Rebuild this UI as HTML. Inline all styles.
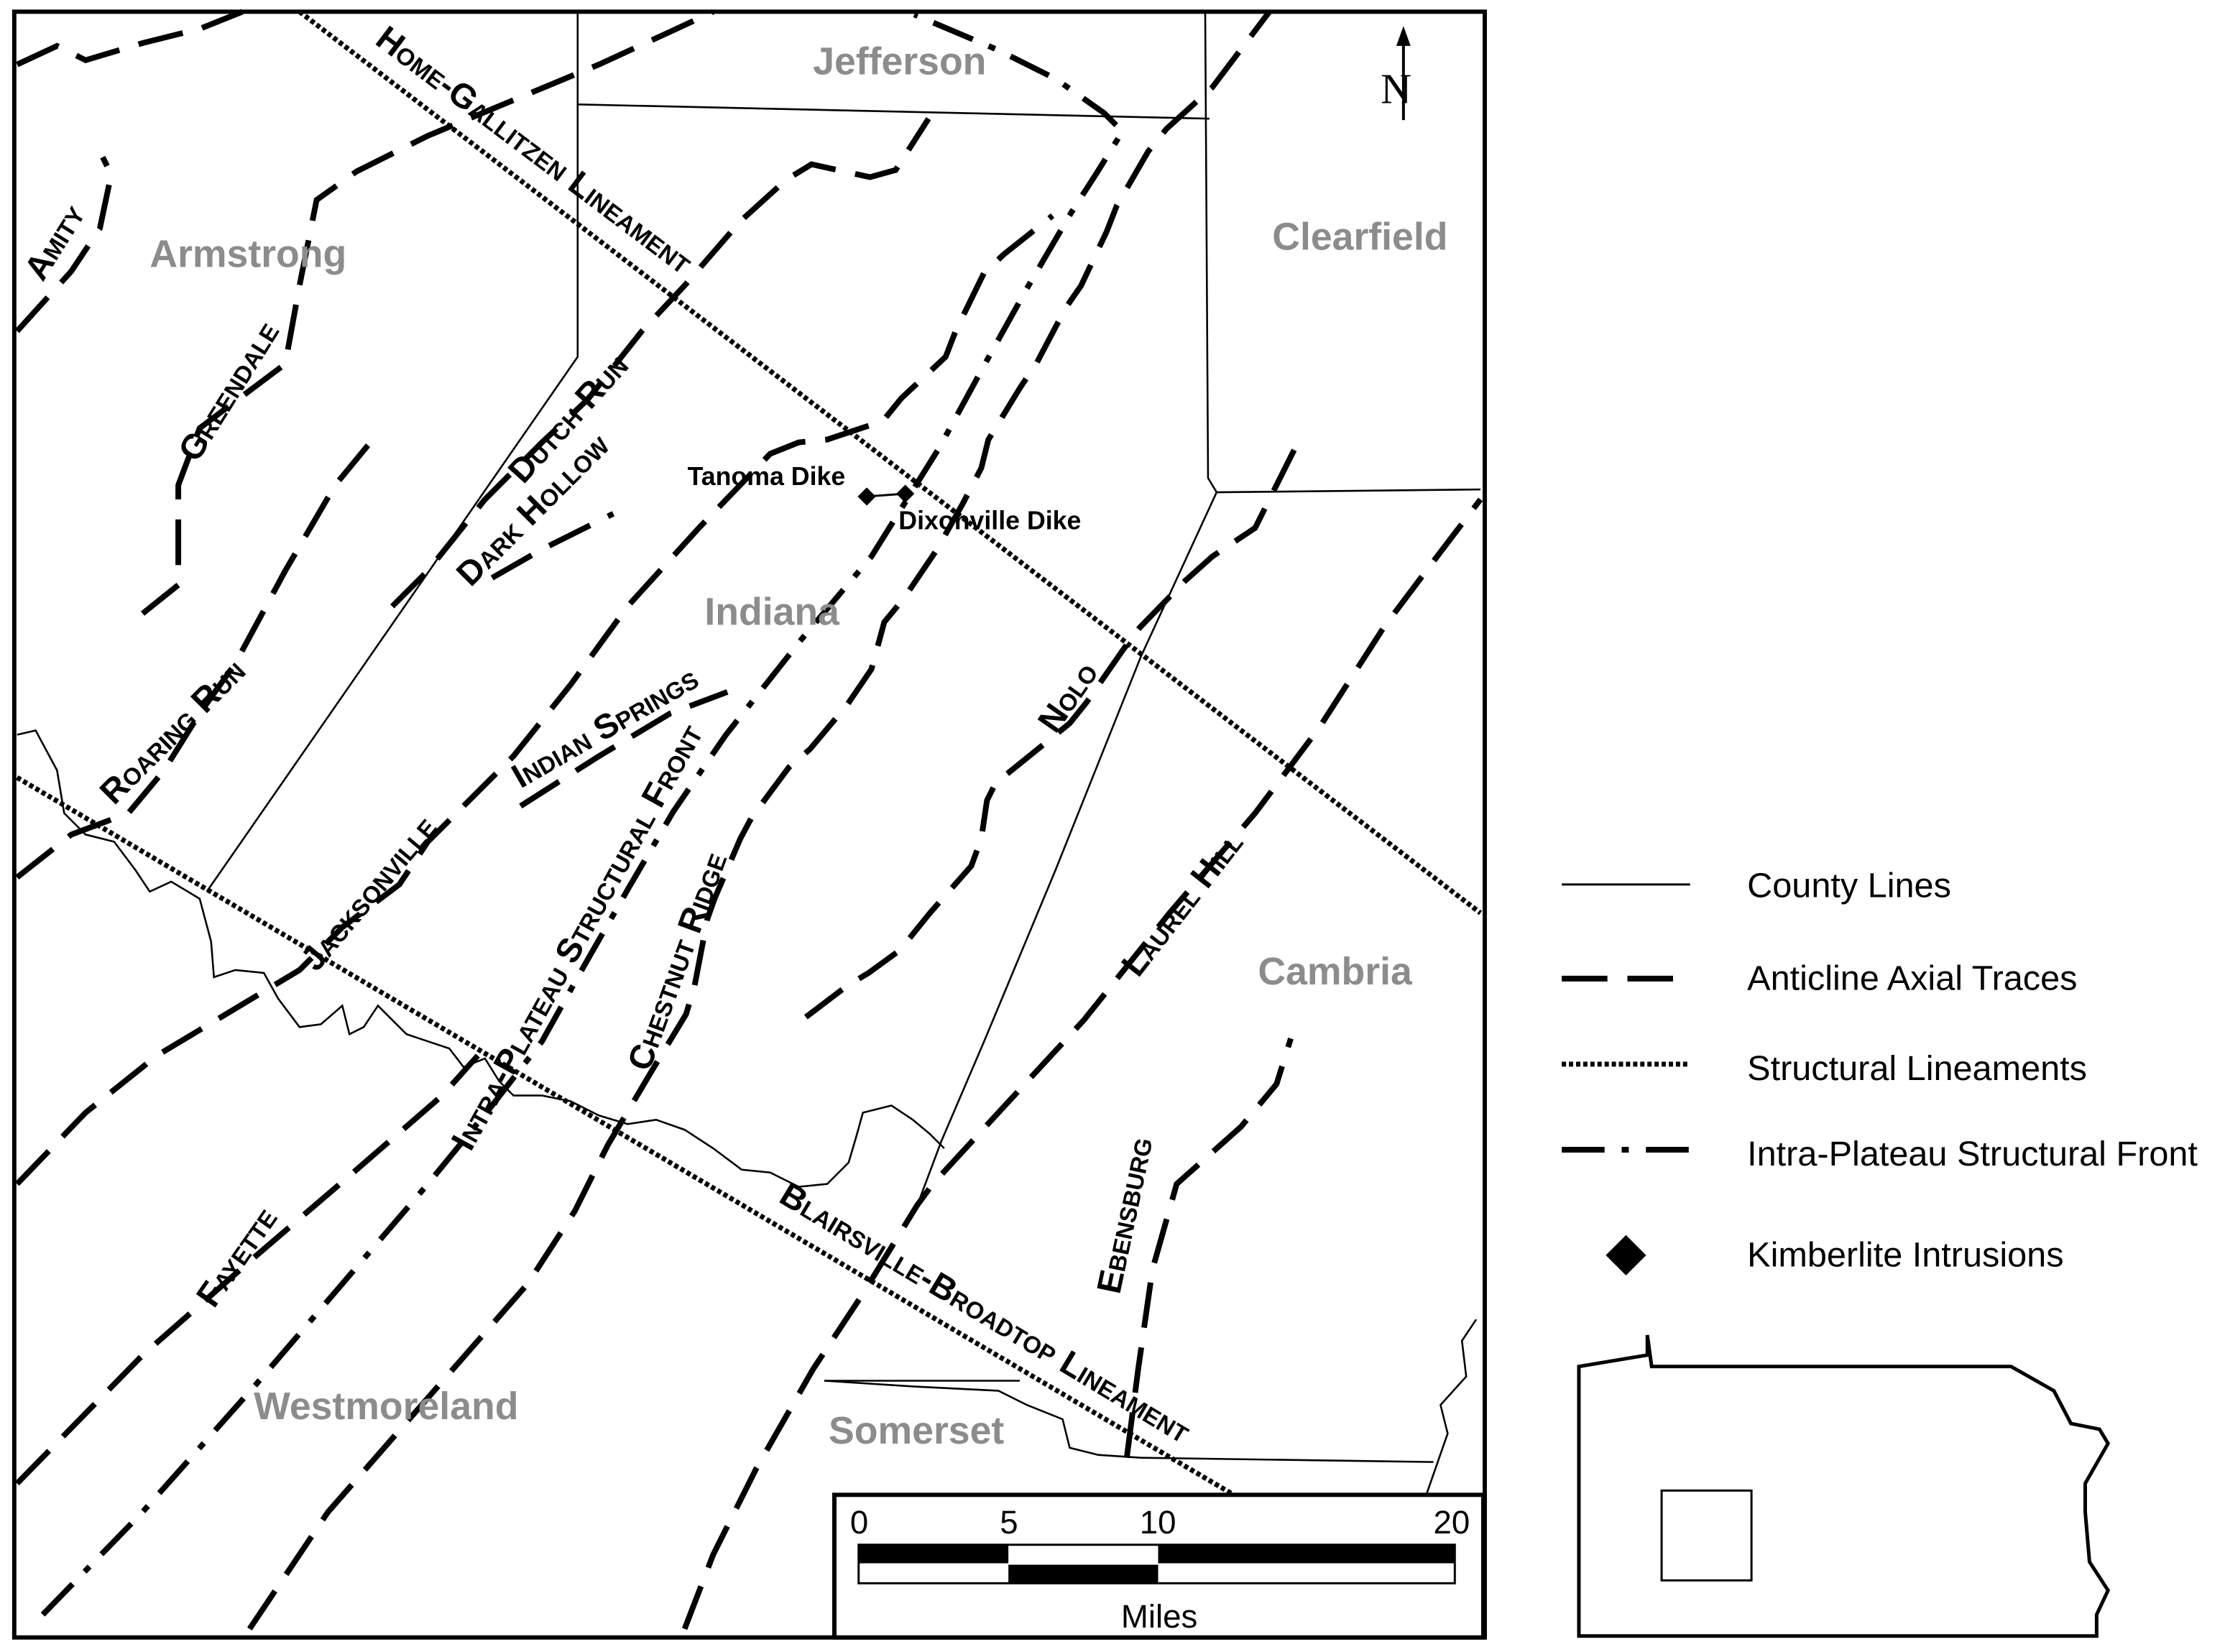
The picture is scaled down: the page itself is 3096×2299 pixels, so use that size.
<!DOCTYPE html>
<html><head><meta charset="utf-8"><style>
html,body{margin:0;padding:0;background:#fff;}
svg{display:block}
.c{font-family:"Liberation Sans",sans-serif;font-weight:bold;fill:#8c8c8c;font-size:27px}
.l{font-family:"Liberation Sans",sans-serif;font-weight:bold;fill:#000;font-size:24px;font-variant:small-caps}
.g{font-family:"Liberation Sans",sans-serif;fill:#000;font-size:24.5px}
.s{font-family:"Liberation Sans",sans-serif;fill:#000;font-size:23px}
.d{fill:none;stroke:#000;stroke-width:4;stroke-dasharray:32 14}
.dd{fill:none;stroke:#000;stroke-width:4;stroke-dasharray:30 12 5 12}
.dt{fill:none;stroke:#000;stroke-width:3.5;stroke-dasharray:3 2}
.t{fill:none;stroke:#000;stroke-width:1.3}
</style></head><body>
<svg width="3096" height="2299" viewBox="0 0 1560 1158" xmlns="http://www.w3.org/2000/svg">
<rect x="0" y="0" width="1560" height="1158" fill="#fff"/>
<polyline class="t" points="405,8 405,250 145,625"/>
<polyline class="t" points="405,73 848,83"/>
<polyline class="t" points="845,8 847,335 853,345 1038,343"/>
<polyline class="t" points="853,345 800,460 740,610 690,730 660,800 645,840"/>
<polyline class="t" points="578,968 715,968"/>
<polyline class="t" points="800,1022 1005,1025"/>
<polyline class="t" points="1035,925 1025,940 1028,965 1010,985 1015,1005 1000,1048"/>
<polyline class="t" points="12,515 25,512 40,540 45,570 60,585 80,590 95,610 105,625 120,618 140,630 148,660 150,685 165,680 185,682 195,700 210,720 225,718 240,705 245,725 255,720 265,705 275,715 285,725 300,730 315,735 325,748 340,742 350,758 360,768 380,768 400,772 420,782 440,788 460,785 480,792 500,805 520,820 540,822 560,832 580,830 595,815 600,798 605,780 625,775 640,785 652,795 662,805"/>
<polyline class="t" points="578,968 640,972 700,975 720,985 745,995 750,1015 770,1020 800,1022"/>
<line class="dt" x1="210" y1="8" x2="1038" y2="640"/>
<line class="dt" x1="12" y1="545" x2="865" y2="1048"/>
<polyline class="d" points="12,45 40,32 60,42 100,30 140,20 170,8"/>
<polyline class="d" points="12,232 50,190 70,160 78,122 72,110"/>
<polyline class="d" points="100,430 125,410 125,340 140,300 200,255 210,200 222,140 250,120 300,95 360,70 420,45 470,22 500,8"/>
<polyline class="d" points="12,615 50,585 90,570 115,540 140,500 165,465 200,400 235,340 258,312"/>
<polyline class="d" points="275,425 300,400 340,350 380,310 412,280 450,232 480,200 519,155 551,126 569,115 610,124 628,119 651,83"/>
<polyline class="d" points="345,405 380,385 430,360"/>
<polyline class="d" points="12,830 60,780 110,740 160,710 210,680 240,650 280,620 300,590 330,560 360,530 400,480 440,425 490,370 540,318 560,310 580,308 619,295 632,279 663,250 670,232 690,191 704,178 738,151"/>
<polyline class="d" points="365,565 420,530 470,500 510,485"/>
<polyline class="d" points="12,1040 100,950 180,880 250,820 310,768 335,740"/>
<polyline class="d" points="175,1142 230,1060 300,980 370,900 403,849 426,803 458,749 481,711 487,691 496,644 501,630 519,588 527,573 553,538 568,525 594,494 611,469 620,436 634,419 657,385 675,353 688,328 693,308 715,272 727,254 747,216 758,200 776,162 783,144 805,106 818,90 850,61 890,8"/>
<polyline class="d" points="480,1142 500,1090 530,1030 570,960 605,907 643,845 654,830 700,780 760,715 820,640 880,570 925,510 970,440 1000,400 1038,350"/>
<polyline class="d" points="565,713 594,691 609,682 631,666 652,640 681,607 688,588 692,561 698,549 750,507 762,492 787,456 799,440 831,407 850,390 880,370 910,310"/>
<polyline class="d" points="790,1022 798,960 808,890 825,830 870,790 895,760 905,728"/>
<polyline class="dd" points="30,1132 100,1060 180,970 240,900 300,830 345,775 380,730 409,678 441,622 472,569 509,515 562,448 611,390 659,313 690,256 720,202 751,149 769,121 787,92 774,79 740,55 700,35 641,10"/>
<rect x="603" y="343" width="9" height="9" transform="rotate(45 607 348)" fill="#000"/>
<rect x="630" y="341" width="9" height="9" transform="rotate(45 634 346)" fill="#000"/>
<line x1="607" y1="348" x2="634" y2="346" stroke="#000" stroke-width="1.5"/>
<text x="482" y="340" font-family="Liberation Sans,sans-serif" font-weight="bold" font-size="18">Tanoma Dike</text>
<text x="630" y="371" font-family="Liberation Sans,sans-serif" font-weight="bold" font-size="18">Dixonville Dike</text>
<text class="c" x="570" y="52">Jefferson</text>
<text class="c" x="105" y="187">Armstrong</text>
<text class="c" x="892" y="175">Clearfield</text>
<text class="c" x="494" y="438">Indiana</text>
<text class="c" x="882" y="690">Cambria</text>
<text class="c" x="178" y="995">Westmoreland</text>
<text class="c" x="581" y="1012">Somerset</text>
<text class="l" transform="translate(262,30) rotate(37)">Home-Gallitzen Lineament</text>
<text class="l" transform="translate(30,198) rotate(-58)">Amity</text>
<text class="l" transform="translate(138,325) rotate(-58)">Greendale</text>
<text class="l" transform="translate(80,565) rotate(-45)">Roaring Run</text>
<text class="l" transform="translate(367,340) rotate(-48)">Dutch Run</text>
<text class="l" transform="translate(330,412) rotate(-45)">Dark Hollow</text>
<text class="l" transform="translate(365,553) rotate(-30)">Indian Springs</text>
<text class="l" transform="translate(222,682) rotate(-50)">Jacksonville</text>
<text class="l" transform="translate(330,808) rotate(-61)">Intra-Plateau Structural Front</text>
<text class="l" transform="translate(455,752) rotate(-70)">Chestnut Ridge</text>
<text class="l" transform="translate(740,515) rotate(-55)">Nolo</text>
<text class="l" transform="translate(798,686) rotate(-52)">Laurel Hill</text>
<text class="l" transform="translate(150,918) rotate(-55)">Fayette</text>
<text class="l" transform="translate(785,908) rotate(-78)">Ebensburg</text>
<text class="l" transform="translate(545,842) rotate(31)">Blairsville-Broadtop Lineament</text>
<line x1="984" y1="22" x2="984" y2="84" stroke="#000" stroke-width="2"/>
<polygon points="984,18 979,32 989,32" fill="#000"/>
<text x="968" y="72" font-family="Liberation Serif,serif" font-size="30">N</text>
<rect x="10" y="8" width="1031" height="1140" fill="none" stroke="#000" stroke-width="3"/>
<rect x="585" y="1048" width="455" height="100" fill="#fff" stroke="#000" stroke-width="3"/>
<rect x="602" y="1083" width="418" height="27" fill="#fff" stroke="#000" stroke-width="1.5"/>
<rect x="602" y="1083" width="105" height="13" fill="#000"/>
<rect x="812" y="1083" width="208" height="13" fill="#000"/>
<rect x="707" y="1097" width="105" height="13" fill="#000"/>
<text class="s" x="596" y="1075">0</text>
<text class="s" x="701" y="1075">5</text>
<text class="s" x="799" y="1075">10</text>
<text class="s" x="1005" y="1075">20</text>
<text class="s" x="786" y="1141">Miles</text>
<line x1="1095" y1="620" x2="1185" y2="620" stroke="#000" stroke-width="1.5"/>
<line x1="1095" y1="686" x2="1185" y2="686" stroke="#000" stroke-width="4" stroke-dasharray="32 14"/>
<line x1="1095" y1="746" x2="1185" y2="746" class="dt"/>
<line x1="1095" y1="806" x2="1185" y2="806" class="dd"/>
<rect x="1130" y="870" width="20" height="20" transform="rotate(45 1140 880)" fill="#000"/>
<text class="g" x="1225" y="629">County Lines</text>
<text class="g" x="1225" y="694">Anticline Axial Traces</text>
<text class="g" x="1225" y="757">Structural Lineaments</text>
<text class="g" x="1225" y="817">Intra-Plateau Structural Front</text>
<text class="g" x="1225" y="888">Kimberlite Intrusions</text>
<polygon points="1107,958 1155,950 1155,936 1158,958 1410,958 1440,975 1452,998 1472,1002 1478,1012 1462,1040 1462,1060 1465,1095 1478,1115 1470,1132 1470,1147 1107,1147" fill="none" stroke="#000" stroke-width="2.5"/>
<rect x="1165" y="1045" width="63" height="63" fill="none" stroke="#000" stroke-width="1.5"/>
</svg>
</body></html>
